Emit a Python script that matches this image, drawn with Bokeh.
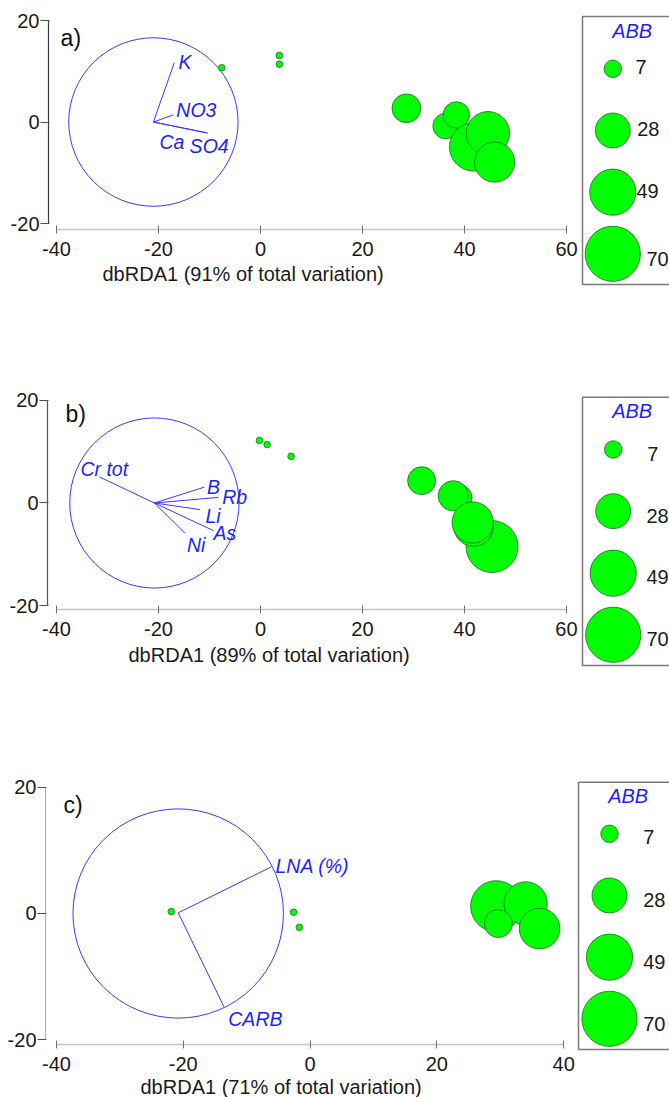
import numpy as np
from bokeh.plotting import figure
from bokeh.models import Range1d, FixedTicker, Title, CustomJSTickFormatter
from bokeh.layouts import column, row
from bokeh.embed import file_html
from bokeh.resources import INLINE
from bokeh.core.properties import value

FONT = "Liberation Sans"
BLUE_LINE = "#3838ff"
BLUE_TEXT = "#1e1eff"
GREEN = "#00ff00"
GREEN_EDGE = "#1c6b1c"

# ---------------- data ----------------
legend_values = [7, 28, 49, 70]
circle_radius = 16.6

# panel a
a_x = [-7.6, 3.7, 3.7, 28.6, 36.3, 38.4, 41.8, 44.6, 45.9]
a_y = [10.7, 13.1, 11.4, 2.7, -0.8, 1.4, -4.9, -2.2, -7.9]
a_abb = [1, 1, 1, 19, 15, 16, 54, 43, 37]
a_origin = [-21.0, 0.0]
a_vec_names = ["K", "NO3", "Ca", "SO4"]
a_vec_x = [-16.9, -17.1, -10.6, -10.3]
a_vec_y = [11.7, 1.4, -2.1, -2.2]
a_lab_x = [-16.1, -16.5, -19.8, -13.9]
a_lab_y = [11.8, 2.4, -3.9, -4.7]
a_title = "dbRDA1 (91% of total variation)"

# panel b
b_x = [-0.2, 1.3, 6.0, 31.6, 38.9, 37.8, 45.4, 41.8, 41.6]
b_y = [12.2, 11.4, 9.1, 4.35, 1.0, 1.4, -8.5, -4.6, -3.8]
b_abb = [1, 1, 1, 18, 16, 21, 62, 36, 39]
b_origin = [-20.8, 0.0]
b_vec_names = ["Cr tot", "B", "Rb", "Li", "As", "Ni"]
b_vec_x = [-31.6, -11.0, -8.2, -11.8, -9.2, -14.8]
b_vec_y = [5.1, 3.1, 1.1, -1.3, -5.4, -5.9]
b_lab_x = [-35.3, -10.5, -7.5, -10.8, -9.2, -14.4]
b_lab_y = [6.7, 3.2, 1.1, -2.6, -5.9, -8.1]
b_title = "dbRDA1 (89% of total variation)"

# panel c
c_x = [-21.9, -2.6, -1.7, 29.35, 34.0, 29.7, 36.2]
c_y = [0.3, 0.2, -2.2, 1.15, 1.6, -1.6, -2.4]
c_abb = [1, 1, 1, 60, 43, 18, 38]
c_origin = [-20.8, 0.1]
c_vec_names = ["LNA (%)", "CARB"]
c_vec_x = [-6.1, -13.6]
c_vec_y = [7.4, -14.75]
c_lab_x = [-5.45, -12.9]
c_lab_y = [7.5, -16.8]
c_title = "dbRDA1 (71% of total variation)"


def bubble_size(v):
    return list(6.6 * np.sqrt(np.asarray(v, dtype=float)))


def make_panel(letter, width, height, xr, yr, borders, xticks, yaxis_color,
               sx, sy, abb, origin, vx, vy, names, lx, ly,
               title, title_offset, title_standoff, letter_xy):
    left, top, bottom = borders
    p = figure(width=width, height=height,
               x_range=Range1d(*xr), y_range=Range1d(*yr),
               output_backend="svg", toolbar_location=None,
               min_border_left=left, min_border_right=0,
               min_border_top=top, min_border_bottom=bottom)
    p.frame_align = False
    p.grid.visible = False
    p.outline_line_color = None
    p.background_fill_color = "white"

    xa = p.xaxis[0]
    xa.ticker = FixedTicker(ticks=xticks, minor_ticks=[])
    xa.formatter = CustomJSTickFormatter(code="return tick.toFixed(0);")
    xa.bounds = (xticks[0], xticks[-1])
    xa.axis_line_color = "#c4c4c4"
    xa.axis_line_width = 1.5
    xa.major_tick_line_color = "#707070"
    xa.major_tick_in = 4
    xa.major_tick_out = 4
    xa.minor_tick_line_color = None
    xa.major_label_standoff = 8
    xa.major_label_text_font = FONT
    xa.major_label_text_font_size = "20px"
    xa.major_label_text_color = "#1a1a1a"

    ya = p.yaxis[0]
    ya.ticker = FixedTicker(ticks=[-20, 0, 20], minor_ticks=[])
    ya.formatter = CustomJSTickFormatter(code="return tick.toFixed(0);")
    ya.bounds = (-20, 20)
    ya.axis_line_color = yaxis_color
    ya.axis_line_width = 1.2
    ya.major_tick_line_color = "#505050"
    ya.major_tick_in = 1
    ya.major_tick_out = 8
    ya.minor_tick_line_color = None
    ya.major_label_standoff = 1
    ya.major_label_text_font = FONT
    ya.major_label_text_font_size = "20px"
    ya.major_label_text_color = "#1a1a1a"

    # correlation circle
    p.ellipse(x=[origin[0]], y=[0], width=2 * circle_radius,
              height=2 * circle_radius, fill_color=None,
              line_color=BLUE_LINE, line_width=1)
    # vectors
    n = len(vx)
    p.segment(x0=[origin[0]] * n, y0=[origin[1]] * n, x1=vx, y1=vy,
              line_color=BLUE_LINE, line_width=1)
    p.text(x=lx, y=ly, text=names, text_font=value(FONT),
           text_font_size="19.5px", text_font_style="italic",
           text_color=BLUE_TEXT, text_align="left", text_baseline="middle")
    # bubbles
    p.scatter(x=sx, y=sy, size=bubble_size(abb), fill_color=GREEN,
              line_color=GREEN_EDGE, line_width=0.8)
    # panel letter
    p.text(x=[letter_xy[0]], y=[letter_xy[1]], text=[letter],
           text_font=value(FONT), text_font_size="23px",
           text_color="#111111", text_align="left", text_baseline="middle")
    # axis title
    t = Title(text=title, align="left", offset=title_offset,
              text_font=FONT, text_font_size="20px",
              text_font_style="normal", text_color="#1a1a1a",
              standoff=title_standoff)
    p.add_layout(t, "below")
    return p


def make_legend(width, height, x0, y_top, box, title_xy, cx, cy, lx, ly):
    p = figure(width=width, height=height,
               x_range=Range1d(x0, x0 + width),
               y_range=Range1d(y_top + height, y_top),
               output_backend="svg", toolbar_location=None,
               x_axis_location=None, y_axis_location=None,
               min_border=0)
    p.frame_align = False
    p.grid.visible = False
    p.outline_line_color = None
    p.quad(left=[box[0]], right=[box[0] + 200], top=[box[1]],
           bottom=[box[2]], fill_color=None, line_color="#7a7a7a",
           line_width=1.5)
    p.text(x=[title_xy[0]], y=[title_xy[1]], text=["ABB"],
           text_font=value(FONT), text_font_size="20px",
           text_font_style="italic", text_color=BLUE_TEXT,
           text_align="center", text_baseline="middle")
    p.scatter(x=[cx] * len(legend_values), y=cy,
              size=bubble_size(legend_values), fill_color=GREEN,
              line_color=GREEN_EDGE, line_width=0.8)
    p.text(x=lx, y=ly, text=[str(v) for v in legend_values],
           text_font=value(FONT), text_font_size="20px",
           text_color="#1a1a1a", text_align="left", text_baseline="middle")
    return p


pa = make_panel("a)", 580, 335, (-41.57, 62.74), (-21.18, 21.58),
                (48, 12, 106), [-40, -20, 0, 20, 40, 60], "#3a3a3a",
                a_x, a_y, a_abb, a_origin, a_vec_x, a_vec_y, a_vec_names,
                a_lab_x, a_lab_y, a_title, 54, 4, (-39.2, 16.65))
la = make_legend(89, 335, 580, 0, (582, 16, 284), (631.7, 30), 612.3,
                 [68.3, 130, 191.7, 253.3], [635, 636.7, 636, 646],
                 [66.7, 128, 190, 258])

pb = make_panel("b)", 580, 385, (-41.76, 62.75), (-20.78, 21.95),
                (47, 55, 111), [-40, -20, 0, 20, 40, 60], "#555555",
                b_x, b_y, b_abb, b_origin, b_vec_x, b_vec_y, b_vec_names,
                b_lab_x, b_lab_y, b_title, 81, 6, (-38.23, 17.46))
lb = make_legend(89, 385, 580, 335, (582, 396.7, 665), (631.7, 410), 612.7,
                 [449, 510.7, 572.7, 634.3], [646.7, 646, 646, 646],
                 [453, 515, 576.7, 638.3])

pc = make_panel("c)", 576, 377, (-41.73, 42.02), (-20.79, 21.58),
                (45, 57, 52), [-40, -20, 0, 20, 40], "#b0b0b0",
                c_x, c_y, c_abb, c_origin, c_vec_x, c_vec_y, c_vec_names,
                c_lab_x, c_lab_y, c_title, 95, 0, (-38.9, 17.15))
lc = make_legend(93, 377, 576, 720, (578, 781.7, 1049), (627.7, 795), 609,
                 [833.3, 895, 956.7, 1018.3], [642.7] * 4,
                 [836.7, 899.3, 961, 1023.3])

layout = column(row(pa, la), row(pb, lb), row(pc, lc))
open("out.html", "w").write(file_html(layout, INLINE))
